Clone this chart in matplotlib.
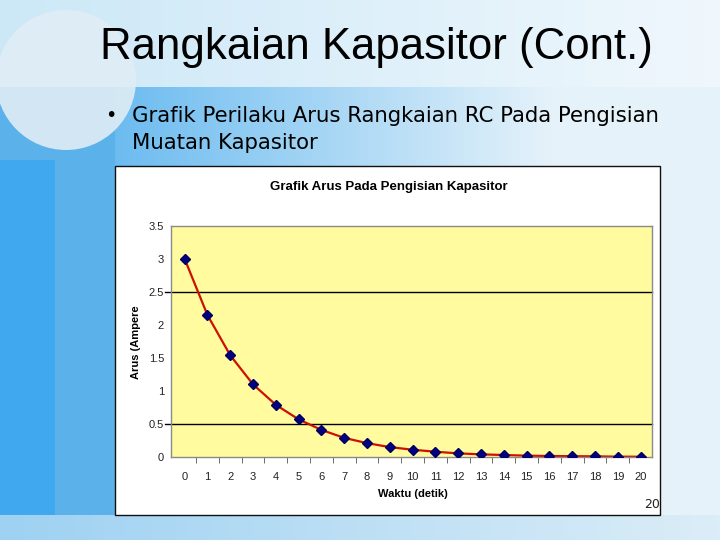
import numpy as np
import matplotlib
matplotlib.use("Agg")
import matplotlib.pyplot as plt
from matplotlib.patches import Rectangle, Ellipse

# ---- data ----
waktu = list(range(0, 21))
arus = [3.00, 2.15, 1.54, 1.10, 0.79, 0.57, 0.41, 0.29, 0.21, 0.15, 0.11,
        0.08, 0.055, 0.04, 0.03, 0.02, 0.015, 0.012, 0.01, 0.005, 0.004]
y_ticks = [0, 0.5, 1, 1.5, 2, 2.5, 3, 3.5]
y_ticklabels = ["0", "0.5", "1", "1.5", "2", "2.5", "3", "3.5"]
grid_values = [0.5, 2.5]

slide_title = "Rangkaian Kapasitor (Cont.)"
bullet_lines = ["Grafik Perilaku Arus Rangkaian RC Pada Pengisian", "Muatan Kapasitor"]
chart_title = "Grafik Arus Pada Pengisian Kapasitor"
x_label = "Waktu (detik)"
y_label = "Arus (Ampere"
page_no = "20"

W, H = 720, 540
fig = plt.figure(figsize=(7.2, 5.4), dpi=100)

# ---- slide background ----
bg_ax = fig.add_axes([0, 0, 1, 1], zorder=-10)
bg_ax.set_xlim(0, W)
bg_ax.set_ylim(H, 0)
bg_ax.axis("off")
xs = np.linspace(0, 1, W)[None, :, None]
img = np.zeros((H, W, 3))
tl = np.array([0.80, 0.91, 0.97]); tr = np.array([0.94, 0.97, 0.99])
bl = np.array([0.30, 0.68, 0.93]); br = np.array([0.90, 0.95, 0.98])
top = tl + (tr - tl) * xs
band = bl + (br - bl) * np.clip(xs * 1.3, 0, 1)
img[:87] = top[0]
img[87:] = band[0]
img[87:, :115] = np.array([0.36, 0.70, 0.92])
img[160:, :55] = np.array([0.25, 0.66, 0.94])
bot_l = np.array([0.62, 0.82, 0.95]); bot_r = np.array([0.86, 0.93, 0.97])
img[515:] = (bot_l + (bot_r - bot_l) * xs)[0]
bg_ax.imshow(img, extent=(0, W, H, 0), aspect="auto", zorder=0)
bg_ax.add_patch(Ellipse((66, 80), 140, 140, facecolor=(0.88, 0.93, 0.96), alpha=0.9,
                        edgecolor="none", zorder=1))

# chart box
bg_ax.add_patch(Rectangle((115, 166), 545, 349, facecolor="white", edgecolor="#101010",
                          linewidth=1.0, zorder=2))

# slide texts
fig.text(376 / W, 1 - 47 / H, slide_title, ha="center", va="center", fontsize=31.5,
         family=["Liberation Sans Narrow", "Liberation Sans"], color="black")
fig.text(111 / W, 1 - 115 / H, "•", ha="center", va="center", fontsize=14, color="black")
fig.text(132 / W, 1 - 122 / H, bullet_lines[0], ha="left", va="baseline", fontsize=15.3,
         family=["DejaVu Sans Condensed", "DejaVu Sans"], color="black")
fig.text(132 / W, 1 - 149 / H, bullet_lines[1], ha="left", va="baseline", fontsize=15.3,
         family=["DejaVu Sans Condensed", "DejaVu Sans"], color="black")

# chart texts
fig.text(389 / W, 1 - 187 / H, chart_title, ha="center", va="center", fontsize=9.5,
         fontweight="bold", family="Liberation Sans")
fig.text(413 / W, 1 - 494 / H, x_label, ha="center", va="center", fontsize=8,
         fontweight="bold", family="Liberation Sans")
fig.text(136 / W, 1 - 342 / H, y_label, ha="center", va="center", fontsize=8,
         fontweight="bold", family="Liberation Sans", rotation=90)
fig.text(652 / W, 1 - 505 / H, page_no, ha="center", va="center", fontsize=9,
         family=["DejaVu Sans Condensed", "DejaVu Sans"], color="#222222")

# ---- plot area ----
ax = fig.add_axes([171 / W, 1 - 457 / H, (652 - 171) / W, (457 - 226) / H])
ax.set_facecolor("#FFFB9E")
ax.set_xlim(-0.6, 20.5)
ax.set_ylim(0, 3.5)
for s in ax.spines.values():
    s.set_color("#8a8a8a")
    s.set_linewidth(1.0)
for g in grid_values:
    ax.axhline(g, xmin=-0.012, xmax=1, color="black", linewidth=1.0, clip_on=False, zorder=1)
ax.plot(waktu, arus, color="#CC1100", linewidth=1.6, zorder=2)
ax.plot(waktu, arus, linestyle="none", marker="D", markersize=5.5, color="#000080",
        markeredgecolor="#000060", zorder=3)

ax.set_xticks(waktu)
ax.set_xticklabels([str(w) for w in waktu])
ax.set_xticks([w + 0.5 for w in waktu[:-1]], minor=True)
ax.tick_params(axis="x", which="major", length=0, pad=11, labelsize=8)
ax.tick_params(axis="x", which="minor", length=4, color="#555555", direction="out")
ax.set_yticks(y_ticks)
ax.set_yticklabels(y_ticklabels)
ax.tick_params(axis="y", which="major", length=0, pad=5, labelsize=8)
for lab in ax.get_xticklabels() + ax.get_yticklabels():
    lab.set_family("Liberation Sans")
    lab.set_color("#222222")

fig.savefig("out.png", dpi=100)
